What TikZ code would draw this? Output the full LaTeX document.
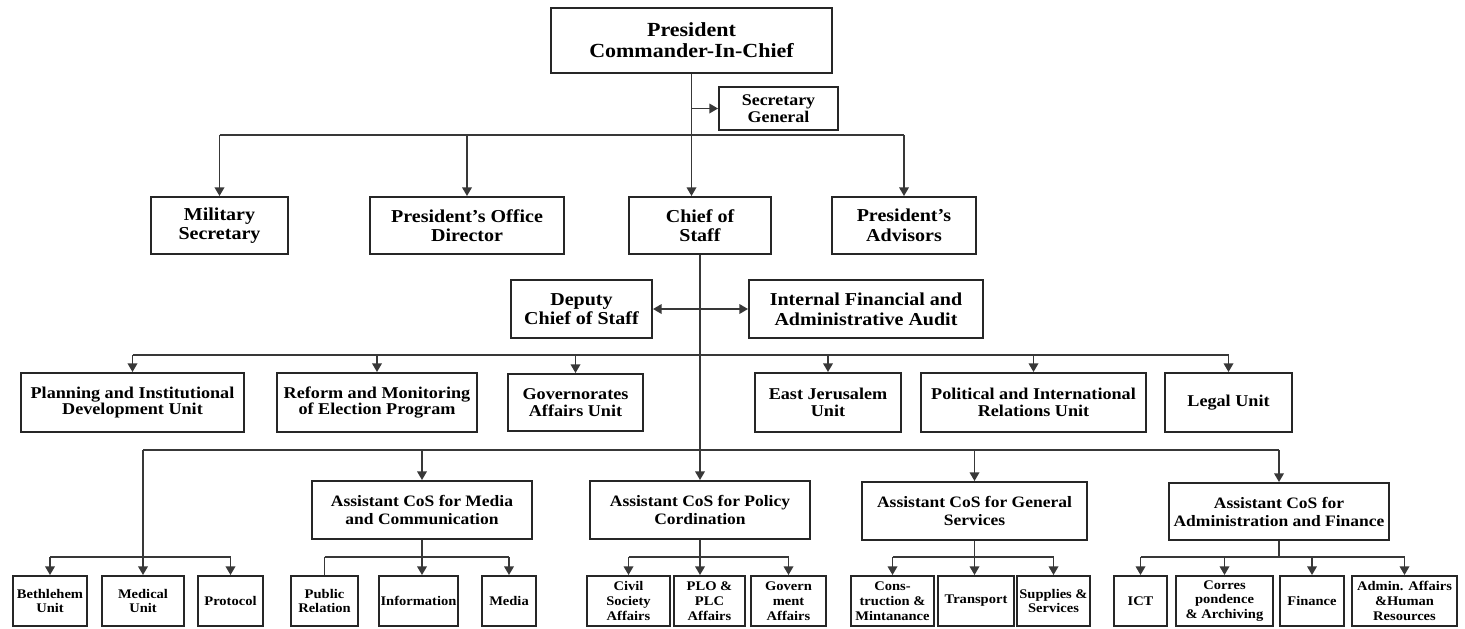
\documentclass[tikz,border=0pt]{standalone}
\usepackage{fontspec}
\setmainfont{Liberation Serif}[FakeStretch=1.1]
\usetikzlibrary{arrows.meta}
\newcommand{\fz}[2]{\fontsize{#1}{#2}\selectfont\bfseries}
\newcommand{\orgbox}[7][]{\node[box,#1,minimum width={(#5-#3)*0.5pt},minimum height={(#6-#4)*0.5pt}] (#2) at ({(#3+#5)/2},{(#4+#6)/2}) {#7};}
\tikzset{
  box/.style={draw=black!85, line width=1pt, align=center, inner sep=1pt, fill=white},
  lv0/.style={font=\fz{10}{10.6}},
  lvs/.style={font=\fz{8.15}{8.8}},
  lv1/.style={font=\fz{9.1}{9.8}},
  lv2/.style={font=\fz{8.25}{8.4}},
  lv3/.style={font=\fz{7.95}{9}},
  lv4/.style={font=\fz{6.6}{7.4}},
  ln/.style={draw=black!78, line width=0.75pt},
  arr/.style={ln, -{Triangle[width=4.8pt,length=4.3pt]}},
  dbl/.style={ln, {Triangle[width=4.8pt,length=4.3pt]}-{Triangle[width=4.8pt,length=4.3pt]}},
}
\begin{document}
\begin{tikzpicture}[x=0.5pt,y=-0.5pt]
\useasboundingbox (0,0) rectangle (1465,628);
% level 0
\orgbox[lv0]{pres}{551}{8}{832}{73}{President\\Commander-In-Chief}
\orgbox[lvs]{sec}{719}{87}{838}{130}{Secretary\\General}
% level 1
\orgbox[lv1]{ms}{151}{197}{288}{254}{Military\\Secretary}
\orgbox[lv1]{pod}{370}{197}{564}{254}{President's Office\\Director}
\orgbox[lv1]{cos}{629}{197}{771}{254}{Chief of\\Staff}
\orgbox[lv1]{adv}{832}{197}{976}{254}{President's\\Advisors}
\orgbox[lv1]{dep}{511}{280}{652}{338}{Deputy\\Chief of Staff}
\orgbox[lv1]{ifa}{749}{280}{983}{338}{Internal Financial and\\Administrative Audit}
% level 2
\orgbox[lv2]{plan}{21}{373}{244}{432}{Planning and Institutional\\Development Unit}
\orgbox[lv2]{refm}{277}{373}{477}{432}{Reform and Monitoring\\of Election Program}
\orgbox[lv2]{gov}{508}{374}{643}{431}{Governorates\\Affairs Unit}
\orgbox[lv2]{ej}{755}{373}{901}{432}{East Jerusalem\\Unit}
\orgbox[lv2]{pir}{921}{373}{1146}{432}{Political and International\\Relations Unit}
\orgbox[lv2]{leg}{1165}{373}{1292}{432}{Legal Unit}
% level 3
\orgbox[lv3]{mc}{312}{481}{532}{539}{Assistant CoS for Media\\and Communication}
\orgbox[lv3]{pc}{590}{481}{810}{539}{Assistant CoS for Policy\\Cordination}
\orgbox[lv3]{gs}{862}{482}{1087}{540}{Assistant CoS for General\\Services}
\orgbox[lv3]{af}{1169}{483}{1389}{540}{Assistant CoS for\\Administration and Finance}
% level 4
\orgbox[lv4]{beth}{13}{576}{87}{626}{Bethlehem\\Unit}
\orgbox[lv4]{med}{102}{576}{184}{626}{Medical\\Unit}
\orgbox[lv4]{prot}{198}{576}{263}{626}{Protocol}
\orgbox[lv4]{pr}{291}{576}{358}{626}{Public\\Relation}
\orgbox[lv4]{info}{379}{576}{458}{626}{Information}
\orgbox[lv4]{media}{482}{576}{536}{626}{Media}
\orgbox[lv4]{civ}{587}{576}{670}{626}{Civil\\Society\\Affairs}
\orgbox[lv4]{plo}{674}{576}{745}{626}{PLO \&\\PLC\\Affairs}
\orgbox[lv4]{gvt}{751}{576}{826}{626}{Govern\\ment\\Affairs}
\orgbox[lv4]{cons}{851}{576}{934}{626}{Cons-\\truction \&\\Mintanance}
\orgbox[lv4]{tr}{938}{576}{1014}{626}{Transport}
\orgbox[lv4]{sup}{1017}{576}{1090}{626}{Supplies \&\\Services}
\orgbox[lv4]{ict}{1114}{576}{1167}{626}{ICT}
\orgbox[lv4]{cor}{1176}{576}{1273}{626}{Corres\\pondence\\\& Archiving}
\orgbox[lv4]{fin}{1280}{576}{1344}{626}{Finance}
\orgbox[lv4]{aa}{1352}{576}{1457}{626}{Admin. Affairs\\\&Human\\Resources}
% bus coordinates
\coordinate (b1) at (0,135);
\coordinate (b3) at (0,355);
\coordinate (b4) at (0,450);
\coordinate (b5) at (0,557);
% connectors top
\draw[arr] (pres.south) -- (pres.south |- cos.north);
\draw[arr] (pres.south |- sec.west) -- (sec.west);
\draw[ln] (ms.north |- b1) -- (adv.north |- b1);
\draw[arr] (ms.north |- b1) -- (ms.north);
\draw[arr] (pod.north |- b1) -- (pod.north);
\draw[arr] (adv.north |- b1) -- (adv.north);
% chief of staff trunk
\draw[ln] (cos.south) -- (cos.south |- b4);
\draw[dbl] (dep.east) -- (ifa.west);
\draw[ln] (plan.north |- b3) -- (leg.north |- b3);
\foreach \n in {plan,refm,gov,ej,pir,leg}
  \draw[arr] (\n.north |- b3) -- (\n.north);
\draw[ln] (med.north |- b4) -- (af.north |- b4);
\foreach \n in {med,mc,pc,gs,af}
  \draw[arr] (\n.north |- b4) -- (\n.north);
% left branch
\draw[ln] (beth.north |- b5) -- (prot.north |- b5);
\draw[arr] (beth.north |- b5) -- (beth.north);
\draw[arr] (prot.north |- b5) -- (prot.north);
% media branch
\draw[arr] (mc.south) -- (mc.south |- info.north);
\draw[ln] (pr.north |- b5) -- (media.north |- b5);
\draw[ln] (pr.north |- b5) -- (pr.north);
\draw[arr] (media.north |- b5) -- (media.north);
% policy branch
\draw[arr] (pc.south) -- (pc.south |- plo.north);
\draw[ln] (civ.north |- b5) -- (gvt.north |- b5);
\draw[arr] (civ.north |- b5) -- (civ.north);
\draw[arr] (gvt.north |- b5) -- (gvt.north);
% general services branch
\draw[arr] (gs.south) -- (gs.south |- tr.north);
\draw[ln] (cons.north |- b5) -- (sup.north |- b5);
\draw[arr] (cons.north |- b5) -- (cons.north);
\draw[arr] (sup.north |- b5) -- (sup.north);
% admin and finance branch
\draw[ln] (af.south) -- (af.south |- b5);
\draw[ln] (ict.north |- b5) -- (aa.north |- b5);
\foreach \n in {ict,cor,fin,aa}
  \draw[arr] (\n.north |- b5) -- (\n.north);
\end{tikzpicture}
\end{document}
